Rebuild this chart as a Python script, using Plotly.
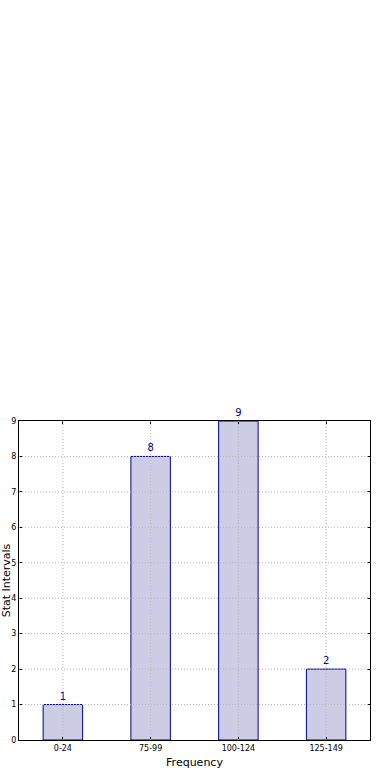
import plotly.graph_objects as go

categories = ["0-24", "75-99", "100-124", "125-149"]
values = [1, 8, 9, 2]
y_ticks = [0, 1, 2, 3, 4, 5, 6, 7, 8, 9]

GRID = dict(color="#b4b4b4", width=1, dash="1px,2px")

fig = go.Figure()
fig.add_trace(go.Bar(
    x=categories, y=values, width=0.45,
    marker=dict(color="#ccccE5", line=dict(color="#00008B", width=1)),
    text=[str(v) for v in values], textposition="outside",
    textfont=dict(family="DejaVu Sans", size=10, color="#00008B"),
    cliponaxis=False,
))

# grid lines drawn above bars (matplotlib style)
for yv in y_ticks[1:-1]:
    fig.add_shape(type="line", xref="paper", yref="y", x0=0, x1=1, y0=yv, y1=yv,
                  line=GRID, layer="above")
for c in categories:
    fig.add_shape(type="line", xref="x", yref="paper", x0=c, x1=c, y0=0, y1=1,
                  line=GRID, layer="above")

fig.update_layout(
    width=390, height=780,
    margin=dict(l=19, r=20, t=421, b=40),
    paper_bgcolor="white", plot_bgcolor="white",
    showlegend=False,
    font=dict(family="DejaVu Sans", color="black"),
    xaxis=dict(
        title=dict(text="Frequency", font=dict(size=11), standoff=6),
        automargin=False,
        range=[-0.5, 3.5], showline=True, linecolor="black", linewidth=1, mirror="ticks",
        ticks="inside", ticklen=3, tickcolor="black",
        tickfont=dict(size=8),
        showgrid=False,
    ),
    yaxis=dict(
        title=dict(text="Stat Intervals", font=dict(size=11), standoff=1),
        automargin=False,
        range=[0, 9], tickvals=y_ticks, showline=True, linecolor="black", linewidth=1, mirror="ticks",
        ticks="inside", ticklen=3, tickcolor="black",
        tickfont=dict(size=8),
        showgrid=False, zeroline=False,
    ),
)
fig.write_html("out.html")
